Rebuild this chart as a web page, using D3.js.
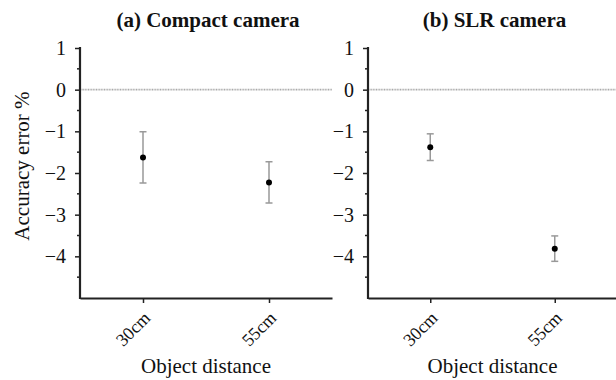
<!DOCTYPE html>
<html>
<head>
<meta charset="utf-8" />
<style type="text/css">
*{margin:0px;padding:0px;}
body{background:#fff;}
</style>
</head>
<body>
<script src="https://cdn.jsdelivr.net/npm/d3@7"></script>
<script type="text/javascript">
// data
var distances = ["30cm", "55cm"];
var panelTitles = ["(a) Compact camera", "(b) SLR camera"];
var compactMean = [-1.63, -2.23];
var compactLow = [-2.24, -2.72];
var compactHigh = [-1.01, -1.73];
var slrMean = [-1.38, -3.82];
var slrLow = [-1.70, -4.12];
var slrHigh = [-1.06, -3.51];
var yTicks = [1, 0, -1, -2, -3, -4];
var yMinorTicks = [0.5, -0.5, -1.5, -2.5, -3.5, -4.5];

var serif = "'Liberation Serif', 'Times New Roman', 'DejaVu Serif', serif";

var panels = [
	{title: panelTitles[0], mean: compactMean, low: compactLow, high: compactHigh, left: 80, right: 332},
	{title: panelTitles[1], mean: slrMean, low: slrLow, high: slrHigh, left: 368, right: 617}
];

var svg = d3.select("body").append("svg").attr("width", 616).attr("height", 380)
	.attr("font-family", serif);

var y = d3.scaleLinear().domain([-5, 1]).range([298, 48]);

// y axis label
svg.append("text")
	.attr("transform", "translate(29,166) rotate(-90)")
	.attr("text-anchor", "middle")
	.attr("font-family", serif).attr("font-size", 21).attr("fill", "#111")
	.text("Accuracy error %");

panels.forEach(function(p){
	var x = d3.scalePoint().domain(distances).range([p.left, p.right]).padding(0.5);
	var g = svg.append("g");
	var mid = (p.left + p.right) / 2;

	g.append("text")
		.attr("x", mid + 2).attr("y", 27)
		.attr("text-anchor", "middle")
		.attr("font-family", serif).attr("font-size", 21).attr("font-weight", "bold").attr("fill", "#111")
		.text(p.title);

	// zero reference line
	g.append("line")
		.attr("x1", p.left).attr("x2", p.right)
		.attr("y1", y(0)).attr("y2", y(0))
		.attr("stroke", "#aaa").attr("stroke-width", 1.6).attr("stroke-dasharray", "1,0.6");

	// minor ticks
	g.selectAll(".minor").data(yMinorTicks).enter().append("line")
		.attr("x1", p.left - 3).attr("x2", p.left)
		.attr("y1", function(d){return y(d);}).attr("y2", function(d){return y(d);})
		.attr("stroke", "#222").attr("stroke-width", 1.5);

	var yAxis = d3.axisLeft(y).tickValues(yTicks).tickSize(5).tickPadding(9)
		.tickFormat(function(d){return d < 0 ? "\u2212" + Math.abs(d) : d;});
	var ya = g.append("g").attr("transform", "translate(" + p.left + ",0)").call(yAxis)
		.attr("font-family", serif);
	ya.select(".domain").remove();
	ya.selectAll(".tick line").attr("stroke", "#222").attr("stroke-width", 1.5);
	ya.selectAll(".tick text").attr("font-size", 20).attr("fill", "#111");
	ya.append("line")
		.attr("x1", 0).attr("x2", 0).attr("y1", y(1) - 1).attr("y2", y(-5) + 1)
		.attr("stroke", "#222").attr("stroke-width", 2.2);

	var xAxis = d3.axisBottom(x).tickSize(5).tickSizeOuter(0);
	var xa = g.append("g").attr("transform", "translate(0," + y(-5) + ")").call(xAxis)
		.attr("font-family", serif);
	xa.select(".domain").attr("stroke", "#222").attr("stroke-width", 2.2);
	xa.selectAll(".tick line").attr("stroke", "#222").attr("stroke-width", 1.5);
	xa.selectAll(".tick text")
		.attr("font-size", 18).attr("fill", "#111")
		.attr("text-anchor", "end")
		.attr("dy", 0).attr("y", 0)
		.attr("transform", "translate(8,21) rotate(-45)");

	g.append("text")
		.attr("x", mid).attr("y", 373)
		.attr("text-anchor", "middle")
		.attr("font-family", serif).attr("font-size", 21).attr("fill", "#111")
		.text("Object distance");

	// error bars
	var eb = g.selectAll(".eb").data(distances).enter().append("g");
	eb.append("line")
		.attr("x1", function(d){return x(d);}).attr("x2", function(d){return x(d);})
		.attr("y1", function(d, i){return y(p.high[i]);}).attr("y2", function(d, i){return y(p.low[i]);})
		.attr("stroke", "#999").attr("stroke-width", 1.5);
	eb.append("line")
		.attr("x1", function(d){return x(d) - 3.5;}).attr("x2", function(d){return x(d) + 3.5;})
		.attr("y1", function(d, i){return y(p.high[i]);}).attr("y2", function(d, i){return y(p.high[i]);})
		.attr("stroke", "#999").attr("stroke-width", 1.5);
	eb.append("line")
		.attr("x1", function(d){return x(d) - 3.5;}).attr("x2", function(d){return x(d) + 3.5;})
		.attr("y1", function(d, i){return y(p.low[i]);}).attr("y2", function(d, i){return y(p.low[i]);})
		.attr("stroke", "#999").attr("stroke-width", 1.5);
	eb.append("circle")
		.attr("cx", function(d){return x(d);})
		.attr("cy", function(d, i){return y(p.mean[i]);})
		.attr("r", 3).attr("fill", "#000");
});
</script>
</body>
</html>
